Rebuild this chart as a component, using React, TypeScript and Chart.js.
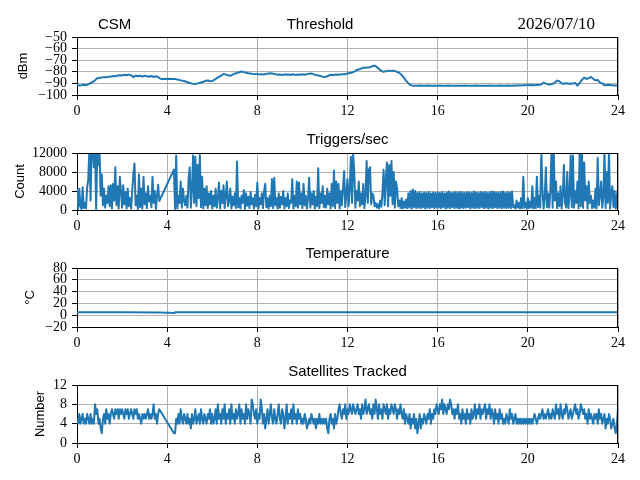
import React, { useEffect, useRef } from "react";
import { Chart, registerables } from "chart.js";

Chart.register(...registerables);

// ---------- data ----------
const hourTicks = [0, 4, 8, 12, 16, 20, 24];

// Threshold (dBm), one value every 0.1 h
const thresholdStepHours = 0.1;
const thresholdDbm: number[] = [
  -91.5, -91.8, -91.6, -91.2, -91.5, -90.8, -89.8, -88.8, -87.2, -85.5,
  -85.2, -85.0, -84.6, -84.8, -84.2, -84.0, -83.6, -83.9, -83.2, -83.0,
  -83.2, -82.6, -83.0, -82.4, -83.0, -84.6, -83.2, -83.8, -83.4, -84.0,
  -83.5, -83.8, -84.2, -83.6, -84.5, -83.8, -84.6, -86.0, -86.2, -86.0,
  -86.2, -86.0, -86.3, -86.1, -86.5, -86.8, -87.4, -87.8, -88.2, -89.0,
  -89.6, -90.2, -90.6, -90.4, -89.8, -89.2, -88.6, -87.8, -87.5, -88.2,
  -88.0, -86.8, -85.4, -84.3, -83.2, -81.8, -82.4, -83.0, -83.5, -82.4,
  -81.5, -81.0, -80.4, -79.8, -80.3, -80.8, -81.2, -81.5, -81.8, -82.0,
  -82.0, -82.3, -82.0, -82.4, -81.8, -81.5, -81.2, -81.6, -82.0, -82.5,
  -82.4, -82.8, -82.2, -82.6, -82.3, -82.5, -82.2, -82.7, -82.4, -82.6,
  -82.2, -82.5, -82.0, -81.6, -81.4, -82.2, -82.8, -83.2, -83.5, -84.2,
  -84.6, -83.8, -83.0, -82.6, -82.8, -82.4, -82.6, -82.3, -82.0, -82.2,
  -81.4, -81.0, -80.6, -79.8, -78.4, -78.0, -77.2, -76.4, -76.6, -76.2,
  -76.0, -75.2, -74.6, -75.8, -77.6, -79.2, -80.0, -79.6, -79.0, -79.2,
  -79.0, -79.4, -80.0, -81.0, -82.6, -85.0, -87.8, -89.8, -91.5, -92.0,
  -92.0, -92.1, -91.9, -92.0, -92.0, -92.1, -91.9, -92.0, -92.0, -92.1,
  -92.0, -91.9, -92.0, -92.1, -92.0, -91.9, -92.0, -92.1, -92.0, -92.0,
  -92.1, -92.0, -91.9, -92.0, -92.0, -92.1, -92.0, -91.9, -92.0, -92.0,
  -92.0, -92.1, -92.0, -91.9, -92.0, -92.0, -92.1, -92.0, -91.9, -92.0,
  -92.0, -91.9, -92.0, -92.0, -91.8, -91.9, -91.7, -91.8, -91.6, -91.7,
  -91.2, -91.5, -91.3, -91.6, -91.4, -91.2, -91.0, -89.3, -90.2, -90.8,
  -91.0, -90.4, -89.3, -87.6, -88.2, -90.0, -90.3, -89.8, -90.2, -90.0,
  -90.2, -89.6, -92.0, -89.5, -87.0, -85.0, -86.2, -85.4, -84.4, -86.0,
  -87.4, -87.0, -89.3, -90.0, -91.5, -91.6, -91.2, -91.5, -91.8, -91.9,
  -92.1,
];

// Triggers per second (count), one value every 0.05 h (null = no data)
const sampleStepHours = 0.05;
const triggerCounts: (number | null)[] = [
  4500, 300, 4500, 800, 200, 4800, 400, 1500, 300, 4700, 6500, 13000, 2000, 13000, 13000, 9000, 13000, 200, 13000, 9500,
  12500, 3000, 7500, 1000, 4500, 500, 3000, 1500, 5000, 800, 5200, 300, 5500, 2000, 9000, 1000, 5000, 300, 7000, 4000,
  500, 5200, 1200, 3800, 300, 4500, 800, 2500, 300, 4000, 7500, 9800, 1000, 3000, 200, 7500, 600, 4500, 300, 7000,
  1200, 3500, 400, 5000, 1800, 3000, 600, 7000, 1500, 4000, 200, 3000, 5300, 1900, null, null, null, null, null, null,
  null, null, null, null, null, null, 8500, 200, 11500, 300, 3000, 1500, 6000, 500, 4500, 2000, 1000, 3000, 500, 6500,
  9000, 500, 4000, 11500, 1500, 11200, 800, 9500, 2500, 11600, 600, 7000, 300, 4500, 1000, 5000, 400, 3500, 1200, 4000,
  300, 3000, 800, 4500, 500, 2500, 5800, 300, 4000, 1500, 5200, 400, 3000, 6000, 800, 2000, 4500, 300, 2800, 1000,
  3500, 400, 10200, 600, 2500, 300, 3000, 1500, 4200, 200, 3500, 900, 2800, 400, 3800, 1200, 2500, 300, 3200, 800,
  5800, 300, 2500, 1200, 3500, 400, 4000, 5500, 600, 2500, 300, 3000, 800, 6500, 400, 6800, 1000, 2500, 300, 3500,
  500, 2800, 1200, 4000, 300, 2500, 800, 3500, 400, 2000, 1500, 6500, 300, 3000, 800, 6000, 500, 5800, 1200, 3500,
  400, 5500, 1000, 3000, 300, 2500, 6800, 500, 3500, 1200, 4000, 300, 2800, 800, 8800, 400, 3500, 1500, 5000, 600,
  3000, 500, 4500, 1200, 3500, 300, 5500, 800, 8300, 400, 6000, 1500, 5500, 300, 4000, 1000, 4500, 8200, 600, 3500,
  6500, 800, 4500, 11200, 1500, 11800, 8000, 500, 4000, 2000, 6000, 800, 3500, 1200, 5500, 400, 3000, 10300, 1500, 8500,
  9000, 1200, 3500, 3000, 800, 1500, 500, 1200, 300, 2000, 700, 3500, 8500, 1000, 6500, 10000, 800, 9500, 3000, 10300,
  1200, 8000, 500, 6000, 4500, 800, 2000, 400, 2500, 300, 1800, 500, 2200, 400, 3500, 500, 4000, 300, 4300, 600,
  4000, 400, 3600, 500, 3800, 400, 3500, 600, 3700, 300, 3600, 500, 3800, 400, 3500, 600, 3700, 400, 3600, 500,
  3700, 500, 3600, 400, 3800, 600, 3500, 300, 3700, 500, 3900, 400, 3600, 600, 3700, 400, 3800, 500, 3600, 300,
  3800, 500, 3700, 400, 3600, 500, 3800, 600, 3700, 300, 3600, 500, 3900, 400, 3700, 500, 3600, 400, 3800, 600,
  3700, 400, 3800, 500, 3600, 300, 3700, 500, 3900, 400, 3800, 600, 3700, 400, 3600, 500, 3800, 400, 3900, 500,
  3600, 400, 3800, 500, 3700, 400, 3900, 600, 1000, 300, 2000, 500, 1500, 300, 2500, 400, 7000, 500, 1500, 300,
  2500, 400, 1800, 500, 5000, 300, 2500, 400, 7000, 600, 3000, 500, 12500, 4000, 300, 2500, 9000, 600, 3500, 500,
  4000, 12500, 500, 12500, 2000, 6000, 400, 3500, 800, 5000, 300, 3000, 9500, 1500, 500, 8000, 400, 3000, 11500, 600,
  11500, 500, 4000, 1500, 6000, 300, 12500, 800, 12500, 400, 10000, 2000, 5000, 300, 6000, 1500, 3000, 400, 2000, 500,
  4500, 300, 11000, 1000, 3000, 6000, 500, 2500, 12500, 400, 8000, 1500, 12500, 300, 3500, 5000, 600, 4000, 300, 3000,
  4500,
];

// Temperature (°C)
const temperatureHours = [0, 2, 3.7, 4.33, 4.35, 8, 12, 16, 20, 24];
const temperatureC = [4.9, 4.8, 4.7, 3.6, 4.9, 4.9, 4.8, 4.8, 4.9, 4.8];

// Satellites tracked, one value every 0.05 h (null = no data)
const satellitesTracked: (number | null)[] = [
  5, 4, 6, 4, 5, 6, 4, 5, 4, 6, 5, 4, 6, 4, 5, 4, 8, 6, 7, 4,
  5, 3, 2, 5, 6, 4, 7, 5, 6, 4, 6, 7, 6, 5, 7, 6, 7, 5, 7, 6,
  7, 6, 5, 7, 6, 7, 5, 6, 7, 6, 5, 7, 6, 7, 5, 6, 5, 4, 6, 5,
  6, 5, 6, 7, 5, 6, 5, 6, 8, 5, 6, 4, 6, 7, null, null, null, null, null, null,
  null, null, null, null, null, null, 2, 2, 5, 4, 6, 4, 7, 5, 4, 6, 5, 4, 6, 4,
  5, 3, 6, 4, 5, 7, 4, 5, 6, 4, 7, 5, 4, 6, 5, 4, 6, 5, 7, 4,
  6, 4, 5, 7, 4, 8, 5, 6, 4, 7, 5, 8, 4, 6, 5, 7, 4, 8, 5, 6,
  4, 7, 5, 6, 8, 4, 7, 5, 6, 4, 8, 5, 7, 6, 4, 9, 8, 6, 5, 7,
  4, 6, 5, 9, 7, 4, 6, 3, 5, 7, 4, 6, 8, 5, 4, 7, 5, 4, 6, 8,
  5, 4, 7, 6, 3, 5, 8, 4, 6, 5, 7, 4, 8, 5, 6, 4, 7, 5, 6, 4,
  5, 4, 6, 5, 3, 4, 5, 4, 6, 5, 4, 5, 3, 5, 4, 6, 4, 5, 4, 5,
  4, 5, 3, 2, 5, 6, 4, 5, 3, 6, 4, 5, 7, 8, 6, 5, 7, 6, 8, 5,
  7, 6, 8, 7, 6, 8, 7, 6, 7, 8, 6, 7, 5, 8, 6, 7, 9, 6, 7, 8,
  6, 7, 5, 8, 6, 9, 7, 5, 8, 6, 7, 5, 8, 7, 6, 8, 5, 7, 6, 8,
  7, 6, 8, 7, 5, 7, 6, 8, 6, 5, 7, 4, 6, 5, 4, 6, 3, 5, 4, 6,
  3, 5, 2, 4, 6, 3, 5, 4, 6, 5, 4, 6, 5, 7, 4, 6, 5, 7, 6, 8,
  7, 6, 8, 7, 9, 6, 8, 7, 6, 8, 7, 9, 8, 6, 7, 5, 7, 6, 8, 5,
  6, 4, 7, 5, 6, 4, 7, 5, 6, 4, 7, 5, 6, 8, 5, 7, 6, 8, 5, 7,
  6, 7, 8, 5, 7, 6, 8, 5, 7, 6, 4, 7, 5, 6, 4, 7, 5, 6, 4, 5,
  4, 6, 5, 4, 7, 5, 6, 4, 5, 6, 4, 5, 4, 5, 4, 5, 4, 5, 4, 5,
  4, 5, 4, 5, 4, 5, 6, 5, 4, 5, 6, 5, 6, 7, 5, 6, 5, 6, 7, 5,
  6, 5, 7, 6, 5, 8, 6, 7, 5, 8, 6, 5, 7, 6, 8, 7, 5, 6, 7, 5,
  6, 7, 8, 6, 7, 5, 6, 8, 7, 6, 7, 5, 6, 4, 7, 5, 6, 5, 4, 6,
  5, 6, 4, 7, 5, 6, 4, 5, 6, 3, 5, 4, 6, 5, 3, 4, 5, 3, 2, 4,
  7,
];

const thresholdTicks = [-100, -90, -80, -70, -60, -50];
const triggerTicks = [0, 4000, 8000, 12000];
const temperatureTicks = [-20, 0, 20, 40, 60, 80];
const satelliteTicks = [0, 4, 8, 12];

// ---------- styling ----------
const LINE_COLOR = "#1f77b4";
const SERIF = "'Liberation Serif', serif";
const SANS = "'Liberation Sans', sans-serif";
const W = 640;
const H = 480;

type TitleText = { text: string; x?: number; align: CanvasTextAlign; font: string; dy: number };
type PanelSpec = {
  points: { x: number; y: number | null }[];
  yTicks: number[];
  top: number;
  bottom: number;
  ylabel: string;
  ylabelX: number;
  titles: TitleText[];
};

const fromSteps = (vals: (number | null)[], step: number) =>
  vals.map((v, i) => ({ x: i * step, y: v }));

const PLOT_LEFT = 77;
const PLOT_RIGHT = 618;
const X_AXIS_H = 20;

const panelDecor = {
  id: "panelDecor",
  afterDraw(chart: any, _args: any, opts: any) {
    const { ctx, chartArea: a } = chart;
    ctx.save();
    ctx.strokeStyle = "#000";
    ctx.lineWidth = 1;
    ctx.beginPath();
    ctx.moveTo(a.left, a.top + 0.5);
    ctx.lineTo(a.right, a.top + 0.5);
    ctx.moveTo(a.right - 0.5, a.top);
    ctx.lineTo(a.right - 0.5, a.bottom);
    ctx.stroke();
    // y label
    ctx.fillStyle = "#000";
    ctx.font = `13px ${SANS}`;
    ctx.textAlign = "center";
    ctx.textBaseline = "middle";
    ctx.translate(opts.ylabelX, (a.top + a.bottom) / 2);
    ctx.rotate(-Math.PI / 2);
    ctx.fillText(opts.ylabel, 0, 0);
    ctx.restore();
    // titles
    ctx.save();
    ctx.fillStyle = "#000";
    ctx.textBaseline = "alphabetic";
    for (const t of opts.titles as TitleText[]) {
      ctx.font = t.font;
      ctx.textAlign = t.align;
      const x = t.x !== undefined ? t.x : (a.left + a.right) / 2;
      ctx.fillText(t.text, x, a.top - t.dy);
    }
    ctx.restore();
  },
};

const minus = (v: number | string) => String(v).replace("-", "\u2212");

function Panel({ spec }: { spec: PanelSpec }) {
  const ref = useRef<HTMLCanvasElement | null>(null);
  useEffect(() => {
    if (!ref.current) return;
    const yMin = spec.yTicks[0];
    const yMax = spec.yTicks[spec.yTicks.length - 1];
    const chart = new Chart(ref.current, {
      type: "line",
      data: {
        datasets: [
          {
            data: spec.points as any,
            borderColor: LINE_COLOR,
            borderWidth: 2,
            pointRadius: 0,
            spanGaps: true,
            tension: 0,
            borderJoinStyle: "round",
            fill: false,
          },
        ],
      },
      options: {
        animation: false,
        responsive: false,
        devicePixelRatio: 1,
        events: [],
        layout: {
          padding: {
            left: 0,
            right: W - PLOT_RIGHT,
            top: spec.top,
            bottom: H - spec.bottom - X_AXIS_H,
          },
        },
        plugins: {
          legend: { display: false },
          tooltip: { enabled: false },
          title: { display: false },
          panelDecor: { ylabel: spec.ylabel, ylabelX: spec.ylabelX, titles: spec.titles },
        } as any,
        scales: {
          x: {
            type: "linear",
            min: 0,
            max: 24,
            afterBuildTicks: (s: any) => {
              s.ticks = hourTicks.map((v) => ({ value: v }));
            },
            afterFit: (s: any) => {
              s.height = X_AXIS_H;
            },
            grid: { color: "#b0b0b0", lineWidth: 1, tickColor: "#000", tickLength: 5, drawTicks: true },
            border: { display: true, color: "#000", width: 1 },
            ticks: {
              color: "#000",
              font: { family: SERIF, size: 14 },
              padding: 3,
              maxRotation: 0,
              autoSkip: false,
              callback: (v: any) => String(v),
            },
          },
          y: {
            type: "linear",
            min: yMin,
            max: yMax,
            afterBuildTicks: (s: any) => {
              s.ticks = spec.yTicks.map((v) => ({ value: v }));
            },
            afterFit: (s: any) => {
              s.width = PLOT_LEFT;
            },
            grid: { color: "#b0b0b0", lineWidth: 1, tickColor: "#000", tickLength: 5, drawTicks: true },
            border: { display: true, color: "#000", width: 1 },
            ticks: {
              color: "#000",
              font: { family: SERIF, size: 14 },
              padding: 5,
              autoSkip: false,
              callback: (v: any) => minus(v),
            },
          },
        },
      },
      plugins: [panelDecor as any],
    });
    return () => chart.destroy();
  }, [spec]);
  return (
    <canvas
      ref={ref}
      width={W}
      height={H}
      style={{ position: "absolute", left: 0, top: 0, width: W, height: H }}
    />
  );
}

const panels: PanelSpec[] = [
  {
    points: fromSteps(thresholdDbm, thresholdStepHours),
    yTicks: thresholdTicks,
    top: 37,
    bottom: 95,
    ylabel: "dBm",
    ylabelX: 23,
    titles: [
      { text: "CSM", x: 98, align: "left", font: `15px ${SANS}`, dy: 8.5 },
      { text: "Threshold", x: 320, align: "center", font: `15px ${SANS}`, dy: 8.5 },
      { text: "2026/07/10", x: 595, align: "right", font: `17px ${SERIF}`, dy: 8.5 },
    ],
  },
  {
    points: fromSteps(triggerCounts, sampleStepHours),
    yTicks: triggerTicks,
    top: 153,
    bottom: 210,
    ylabel: "Count",
    ylabelX: 20,
    titles: [{ text: "Triggers/sec", align: "center", font: `15px ${SANS}`, dy: 9.5 }],
  },
  {
    points: temperatureHours.map((h, i) => ({ x: h, y: temperatureC[i] })),
    yTicks: temperatureTicks,
    top: 268,
    bottom: 327,
    ylabel: "°C",
    ylabelX: 30,
    titles: [{ text: "Temperature", align: "center", font: `15px ${SANS}`, dy: 10 }],
  },
  {
    points: fromSteps(satellitesTracked, sampleStepHours),
    yTicks: satelliteTicks,
    top: 385,
    bottom: 443,
    ylabel: "Number",
    ylabelX: 40.5,
    titles: [{ text: "Satellites Tracked", align: "center", font: `15px ${SANS}`, dy: 9.5 }],
  },
];

export default function App() {
  return (
    <div style={{ position: "absolute", left: 0, top: 0, width: W, height: H, background: "#fff" }}>
      {panels.map((p, i) => (
        <Panel key={i} spec={p} />
      ))}
    </div>
  );
}
